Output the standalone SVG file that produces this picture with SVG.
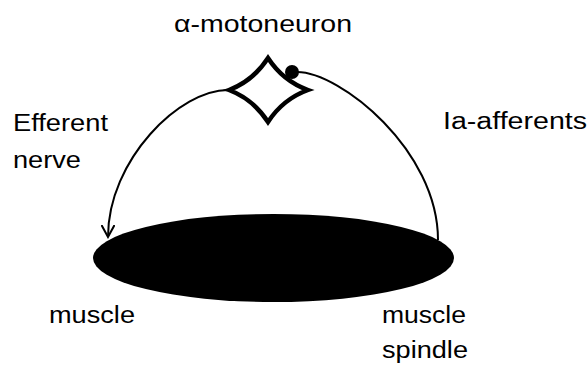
<svg xmlns="http://www.w3.org/2000/svg" width="588" height="365" viewBox="0 0 588 365">
<style>
text{font-family:"Liberation Sans",Arial,sans-serif;font-size:23px;fill:#000}
.conn{fill:none;stroke:#000;stroke-width:2}
</style>
<defs>
<marker id="openArrow" markerWidth="14" markerHeight="14" refX="12" refY="7" orient="auto" markerUnits="userSpaceOnUse">
<path d="M0,0.5 L12,7 L0,13.5" fill="none" stroke="#000" stroke-width="2"/>
</marker>
</defs>
<rect width="588" height="365" fill="#fff"/>
<g id="connectors">
<path id="efferent-nerve" class="conn" d="M229,90 C180,89 108,160 108,237" marker-end="url(#openArrow)"/>
<path id="ia-afferents" class="conn" d="M297,72 C340,72 438,150 438,240"/>
</g>
<g id="muscle">
<ellipse cx="273.5" cy="258" rx="180.5" ry="44" fill="#000"/>
</g>
<g id="motoneuron">
<path d="M268,58 Q283,81 308,90 Q283,99 268,122 Q253,99 229,90 Q253,81 268,58 Z" fill="#fff" stroke="#000" stroke-width="4.5" stroke-linejoin="miter"/>
<circle cx="292" cy="72" r="7" fill="#000"/>
</g>
<g id="labels">
<text x="174" y="32" textLength="178" lengthAdjust="spacingAndGlyphs">α-motoneuron</text>
<text x="13" y="131" textLength="95" lengthAdjust="spacingAndGlyphs">Efferent</text>
<text x="13" y="168" textLength="68" lengthAdjust="spacingAndGlyphs">nerve</text>
<text x="443" y="129" textLength="144" lengthAdjust="spacingAndGlyphs">Ia-afferents</text>
<text x="49" y="323" textLength="86" lengthAdjust="spacingAndGlyphs">muscle</text>
<text x="382" y="323" textLength="84" lengthAdjust="spacingAndGlyphs">muscle</text>
<text x="382" y="358" textLength="86" lengthAdjust="spacingAndGlyphs">spindle</text>
</g>
</svg>
